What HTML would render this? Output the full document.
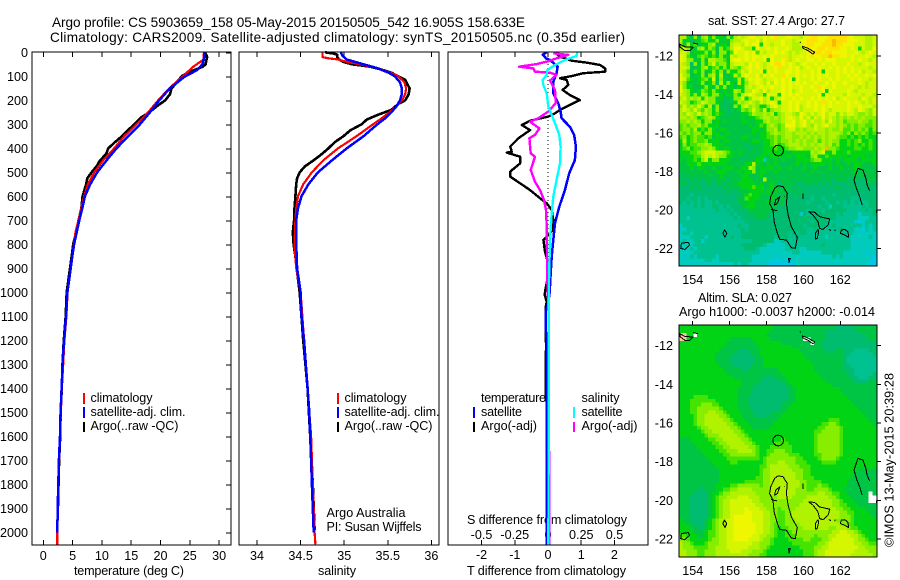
<!DOCTYPE html>
<html lang="en">
<head>
<meta charset="utf-8">
<title>Argo profile 5903659_158</title>
<style>
html,body{margin:0;padding:0;background:#fff;width:900px;height:580px;overflow:hidden}
svg{display:block}
text{font-family:"Liberation Sans",sans-serif;font-size:12.6px;fill:#000}
</style>
</head>
<body>
<svg id="chart" xmlns="http://www.w3.org/2000/svg" width="900" height="580" viewBox="0 0 900 580">
<defs>
<clipPath id="clip-map1"><rect x="679" y="35" width="198" height="231"/></clipPath>
<clipPath id="clip-map2"><rect x="679" y="325" width="198" height="232"/></clipPath>
</defs>
<rect width="900" height="580" fill="#fff"/>
<text x="52" y="27" style="font-size:13.6px" textLength="473">Argo profile: CS 5903659_158 05-May-2015 20150505_542 16.905S 158.633E</text>
<text x="50" y="42" style="font-size:13.6px" textLength="575">Climatology: CARS2009. Satellite-adjusted climatology: synTS_20150505.nc (0.35d earlier)</text>
<text x="74" y="575" textLength="110">temperature (deg C)</text>
<text x="318" y="575" textLength="38">salinity</text>
<text x="467" y="575" textLength="159">T difference from climatology</text>
<text x="467" y="524" textLength="160">S difference from climatology</text>
<g>
<rect x="83" y="393" width="2" height="11" fill="#f00"/>
<rect x="83" y="407" width="2" height="11" fill="#00f"/>
<rect x="83" y="422" width="2" height="10" fill="#000"/>
<text x="90.5" y="402" textLength="62">climatology</text>
<text x="90.5" y="416" textLength="95">satellite-adj. clim.</text>
<text x="90.5" y="430" textLength="88">Argo(..raw -QC)</text>
</g>
<g>
<rect x="337" y="393" width="2" height="11" fill="#f00"/>
<rect x="337" y="407" width="2" height="11" fill="#00f"/>
<rect x="337" y="422" width="2" height="10" fill="#000"/>
<text x="344.5" y="402" textLength="62">climatology</text>
<text x="344.5" y="416" textLength="95">satellite-adj. clim.</text>
<text x="344.5" y="430" textLength="88">Argo(..raw -QC)</text>
</g>
<text x="326.5" y="517" textLength="79">Argo Australia</text>
<text x="326.5" y="531" textLength="95">PI: Susan Wijffels</text>
<g>
<text x="481" y="402" textLength="65">temperature</text>
<text x="581.5" y="402" textLength="38">salinity</text>
<rect x="473" y="407" width="2" height="11" fill="#00f"/>
<rect x="473" y="422" width="2" height="10" fill="#000"/>
<rect x="573" y="407" width="2" height="11" fill="#0ff"/>
<rect x="573" y="422" width="2" height="10" fill="#f0f"/>
<text x="481" y="416" textLength="41">satellite</text>
<text x="481" y="430" textLength="56">Argo(-adj)</text>
<text x="581.5" y="416" textLength="41">satellite</text>
<text x="581.5" y="430" textLength="56">Argo(-adj)</text>
</g>
<text x="708" y="25" textLength="137">sat. SST: 27.4 Argo: 27.7</text>
<text x="698" y="302" textLength="94">Altim. SLA: 0.027</text>
<text x="679" y="316" textLength="196">Argo h1000: -0.0037 h2000: -0.014</text>
<text transform="translate(893.5,547) rotate(-90)" textLength="174">©IMOS 13-May-2015 20:39:28</text>
</svg>
<script>
// ---- axis tick values and labels ----
const depthTicks = [0,100,200,300,400,500,600,700,800,900,1000,1100,1200,1300,1400,1500,1600,1700,1800,1900,2000];
const tempTicks = [0,5,10,15,20,25,30];
const salTicks = [34,34.5,35,35.5,36];
const salTickLabels = ["34","34.5","35","35.5","36"];
const diffTTicks = [-2,-1,0,1,2];
const diffSTicks = [-0.5,-0.25,0,0.25,0.5];
const diffSLabels = ["-0.5","-0.25","0","0.25","0.5"];
const lonTicks = [154,156,158,160,162];
const latTicks = [-12,-14,-16,-18,-20,-22];

// ---- temperature panel ----
const tempClimDepth = [0,30,60,100,150,200,250,300,350,400,450,500,550,600,650,700,750,800,1000,1100,1200,1300,1400,1500,1600,1700,1800,1900,2000,2050];
const tempClim = [27.4,27.35,25.6,23.8,21.5,19.6,17.9,15.9,13.8,12.1,10.2,8.7,7.6,6.95,6.5,6.0,5.5,5.2,4.15,3.95,3.6,3.4,3.15,3.0,2.87,2.7,2.58,2.46,2.39,2.39];
const tempSatDepth = [0,30,50,75,100,150,200,250,300,350,400,450,500,550,600,650,700,750,800,850,900,950,1000,1100,1200,1300,1400,1500,1600,1700,1800,1900,2000];
const tempSat = [27.5,27.4,27.15,26.2,24.2,21.6,19.8,18.2,16.5,14.5,12.5,10.8,9.2,8.0,7.1,6.65,6.15,5.7,5.25,4.95,4.67,4.4,4.1,3.87,3.53,3.3,3.13,2.96,2.85,2.67,2.56,2.45,2.39];
const tempArgoDepth = [0,10,20,30,50,60,70,80,100,125,150,175,200,225,250,270,290,310,330,350,375,400,425,450,475,500,525,550,600,650,700,750,800,850,900,1000,1100,1200,1300,1400,1500,1600,1700,1800,1900,1950];
const tempArgo = [27.6,27.8,27.95,27.85,27.7,27.2,26.2,25.0,23.6,22.8,21.9,21.6,20.8,19.35,18.1,16.8,15.95,15.1,14.2,13.4,12.2,11.1,10.7,9.7,9.1,8.25,7.5,7.3,6.7,6.5,6.0,5.6,5.1,4.85,4.55,4.0,3.82,3.5,3.28,3.15,2.95,2.88,2.7,2.6,2.5,2.45];

// ---- salinity panel ----
const salClimDepth = [0,20,25,30,40,50,65,85,100,125,150,175,200,225,250,275,300,350,400,450,500,550,600,650,700,800,900,1000,1200,1400,1600,1800,2000,2050];
const salClim = [34.75,34.75,34.82,34.93,35.03,35.18,35.37,35.53,35.62,35.69,35.71,35.70,35.66,35.60,35.52,35.43,35.33,35.14,34.93,34.76,34.63,34.53,34.47,34.45,34.44,34.43,34.45,34.5,34.54,34.58,34.62,34.64,34.66,34.67];
const salSatDepth = [0,15,30,50,65,85,100,125,150,175,200,225,250,275,300,350,400,450,500,550,600,650,700,750,800,850,900,950,1000,1100,1200,1300,1400,1500,1600,1700,1800,1900,2000];
const salSat = [34.96,34.98,35.03,35.22,35.37,35.51,35.58,35.64,35.66,35.66,35.64,35.6,35.54,35.47,35.38,35.22,35.03,34.86,34.7,34.59,34.51,34.47,34.45,34.45,34.45,34.455,34.46,34.48,34.5,34.51,34.54,34.56,34.58,34.6,34.61,34.62,34.63,34.64,34.65];
const salArgoDepth = [0,5,10,20,30,40,50,60,70,85,100,115,130,150,175,200,215,240,260,280,300,325,350,375,400,425,450,475,500,525,550,600,650,700,750,800,850,900,1000,1200,1400,1600,1800,1990];
const salArgo = [34.78,34.875,34.92,34.92,34.94,34.99,35.09,35.3,35.41,35.54,35.62,35.7,35.72,35.75,35.74,35.7,35.62,35.54,35.39,35.26,35.2,35.07,34.99,34.89,34.82,34.74,34.65,34.55,34.49,34.46,34.45,34.44,34.43,34.425,34.41,34.42,34.44,34.455,34.49,34.53,34.58,34.61,34.64,34.66];

// ---- difference panel ----
const diffTSatDepth = [0,10,25,32,60,87,122,170,212,247,275,310,345,393,449,504,574,643,712,782,851,949,1000,1050,1080,1150,1200,2050];
const diffTSat = [-0.04,-0.16,-0.06,0.06,0.29,0.26,0.16,0.16,0.31,0.38,0.41,0.66,0.79,0.84,0.81,0.64,0.51,0.34,0.21,0.16,0.11,0.07,0.05,0,-0.07,-0.07,-0.04,-0.04];
const diffTArgoDepth = [1,18,35,43,53,67,81,87,99,108,115,136,157,178,199,212,240,254,268,285,303,324,358,393,414,418,435,463,497,518,546,574,608,629,657,699,740,782,831,865,949,990,1010,1040,1060,1080,1200,1210,1450,1460,1900,1950,2000];
const diffTArgo = [0.21,0.36,0.71,1.16,1.57,1.72,1.72,1.06,0.71,0.36,0.56,0.61,0.44,0.66,0.96,0.76,0.36,0.21,0.01,-0.54,-0.79,-0.54,-0.89,-1.14,-1.09,-1.24,-0.84,-0.84,-1.14,-1.14,-0.84,-0.54,-0.24,-0.04,0.11,0.16,0.16,-0.14,-0.09,-0.02,-0.02,-0.08,-0.1,-0.04,-0.07,-0.06,-0.07,-0.06,-0.07,0,0,0.04,0.03];
const diffSSatDepth = [0,15,32,53,74,94,115,136,171,226,261,296,344,393,463,532,601,671,782,949,2050];
const diffSSat = [0.22,0.215,0.128,0.053,-0.005,-0.01,-0.04,-0.035,-0.01,0.0025,0.028,0.053,0.085,0.095,0.09,0.065,0.04,0.028,0.015,0.0075,0.003];
const diffSArgoDepth = [4,11,25,35,49,60,67,81,85,94,118,157,212,247,275,289,317,344,358,421,435,490,539,574,615,657,726,949,1100,2050];
const diffSArgo = [0.04,0.153,0.065,0.015,-0.085,-0.218,-0.11,-0.098,0.015,0.065,0.015,0.053,0.058,0.0025,-0.073,-0.135,-0.065,-0.098,-0.14,-0.13,-0.098,-0.13,-0.098,-0.06,-0.03,-0.015,-0.01,-0.005,0.005,0.01];

// ---- map colour levels, one character per 0.2 degree cell ----
const levelColors = {"0":"#00c8e4","1":"#00cbbc","2":"#00c290","3":"#00bc70","4":"#00c444","5":"#00d414","6":"#44e400","7":"#88ee00","8":"#b0f200","9":"#d4f600","a":"#eef600","b":"#ffe000","c":"#ffb800","w":"#ffffff","p":"#ffc8a0"};
const sstRows = [
"885474785 755475898 9aa99a9ab 99aa998aa bbaaabbbb baa999889",
"845345675 574547889 a99a8a999 9a9989aab bbaabbcbb baaa99889",
"758564557 845548998 a9aa5a989 9a99889ab baabbbcbb aaa999889",
"797547857 647568aa9 885a99a9a 99a9888ab aabbabbba a9a95988a",
"997455575 747746a99 a9a69899a 9a989899a abbabbaaa a99a989a9",
"a96546765 657559899 a9aa9a9a9 999899a9a baabbcbba a9a999a98",
"a97745748 877649aa9 a9a99a5a9 9ab89a99a a9a9aaa99 99a9a9989",
"987374757 967758999 8a9a989ab ba9a989a9 9a9a99a99 9a9989a99",
"998445785 675758768 9a9a9899a b99a9a89a 99a99a9a9 a9a999989",
"986465745 757475579 8a99a5a9a 99aa9a999 a9a5a99a9 a9a9a8998",
"a87445747 858445869 a99a8a9a9 9ba99a9a9 a9a9a99a9 9a9a99a9a",
"a96545675 947544585 8a9a9899a 9a9a5a999 a9a99a9a9 99a9a9989",
"975445745 748575485 799a98a8a 9a9a9a9a9 9a99a9a99 a999a9899",
"a75544575 475745455 8989a99a9 9a9a99a99 a9ba99a99 99a989899",
"a87545765 754545875 88a98a899 9a9a89a99 9a9a5a999 9a9899999",
"987575875 775455758 9a9885a99 5a9a9a999 99a5a9999 8a9998998",
"897878587 745344779 5799a8958 9a99a9a99 a9a9a9a89 a9998a989",
"987567987 754344587 898798 9a9 599a9a99a 9a9b9a9a9 9a9a98989",
"797879758 474434758 97875579a 899a9a89a 9a9a9a999 9a99a9998",
"898797687 574434457 679769578 899a9a899 9a9a98999 9a98a9879",
"879879787 565434445 568778785 789987a98 989a89979 899877879",
"887875678 754444445 455678878 789a98a89 798a89878 787878777",
"778787577 454544445 544557877 7899a89a8 98897a878 677787767",
"676778675 554444444 454565787 67aaa89a8 7989a8878 767677667",
"677685657 545544444 445545778 678997878 898878778 667676757",
"767677577 554454444 445455678 778878887 878878887 675767656",
"675676656 455544445 544455667 678877878 787878876 656565655",
"585676675 554554444 445545567 677878787 786878775 565675565",
"475667787 555444444 344445567 567888787 878878675 565656565",
"567566778 754554444 434445556 556778877 7878c7765 555665565",
"555667899 988765454 444445555 554455555 878955755 565555555",
"455566898 987755444 344455455 545545554 785465555 545555445",
"545565795 775554443 444551445 454445555 677555454 555545555",
"445556555 555544444 558544545 434445454 555545454 454554445",
"444545544 544555445 587454554 544544454 454445445 444554444",
"444444454 455544454 557455445 444444444 544444444 444544444",
"344444444 445444445 544454444 444444444 444444444 444444444",
"433434344 344434445 554448444 444444444 444344344 433433444",
"443343334 344344455 555454454 344443344 343434333 343333443",
"333434333 333434445 556554454 444434333 333333343 333433333",
"333333333 333343344 455554545 444343433 333333333 333333333",
"333233333 333333334 565544454 344334333 333333233 333323333",
"332332323 333333344 655544454 443333333 233233333 332233333",
"323232322 323333344 455444544 444333332 333323323 232322233",
"222232322 332323334 555444444 333333333 332331333 222223233",
"222222222 232232333 344444444 333333332 333233333 322222323",
"222222222 222223233 344444433 333333132 233333323 222212223",
"221222222 222222323 333444333 333333333 333333322 222211122",
"222222222 222222222 333333333 333333333 233332222 222101222",
"122222222 222222232 233333333 333333323 333322322 222221212",
"112222222 222222223 233333333 333333332 232222223 222110212",
"122122222 222222223 333333333 333232332 222222222 222111111",
"111222212 222223223 333333332 333223222 222212222 221111121",
"121122122 222222222 223333331 122222222 222222222 221111111",
"111122222 222222223 333332111 112222222 222322222 221111111",
"111212222 222222222 333211111 112222112 222222222 221111111",
"111122222 222222222 222211111 111122111 111222222 111111011",
"111212222 212222222 221111111 111111111 111111212 111111110",
"111111122 112222222 221111110 010111111 111111111 111111100",
"111111111 111111212 211111000 000001111 111111111 111111100"
];
const slaRows = [
"555555555 555555555 555555554 444444444 444444433 333444444",
"555555555 555555555 555555544 444444444 444433333 333344444",
"pp55w5555 555555555 555555444 444444444 444433333 333333444",
"pp5555555 555554444 445555544 4444444ww 444433333 333333344",
"555555555 555544444 444555555 544444444 w44333333 333333333",
"555555555 555444444 444455555 555544444 444333333 333333333",
"555555555 554444433 344455555 555555444 444433344 333222233",
"555555555 544444333 334455555 555555544 444444444 332222223",
"555555555 544443333 333445555 555555554 444444444 322222222",
"555555555 544443333 333445555 555555555 444444444 322222222",
"555555555 554444333 334445555 555555555 544444444 332222222",
"555555555 555444443 344444444 555555555 544444444 333222222",
"555555555 555544444 444444444 455555555 554444444 433222223",
"555555555 555555444 444443334 445555555 555444444 443322233",
"555555555 555555554 444433333 344555555 555544444 444333344",
"555555555 555555554 444333333 334455555 555555444 444444444",
"555555555 555555544 443333333 333445555 555555554 444444444",
"555555555 555555544 443333333 333445555 555555555 444444444",
"555566665 555555544 433333333 333445555 555555555 544444444",
"555666666 655555544 433333333 334445555 555555555 554444444",
"555666777 665555544 433333333 344455555 555555555 555444444",
"555667777 776555544 443333333 344555555 555555555 555544444",
"555667778 877655554 443333334 445555555 555555555 555554444",
"555567788 887765554 444333344 455555555 555555555 555555444",
"555567788 888776555 444444444 555555555 555556665 555555544",
"555567788 888877655 544444445 555555555 555667765 555555554",
"555556778 888887765 554444455 555555555 556677776 555555555",
"555555677 888888776 555555555 555555555 566777776 555555555",
"555555567 778888877 655555555 555555555 567777776 555555555",
"444555556 677888887 765555555 565555555 567777776 555555555",
"444455555 667788888 776555556 666555555 567777776 555555555",
"444445555 566778888 877655566 666655555 567777776 555555555",
"444444555 556677788 887655667 776655555 567777776 555555555",
"444444455 555667777 777655677 777666555 566777776 555555555",
"444444445 555566666 666656777 777776655 556777765 555555555",
"444444444 555556655 555556777 887776665 555666655 555555555",
"444444444 455555555 555566788 888777666 555555555 555555555",
"444444444 445555555 555567788 888877766 555555555 555544444",
"444444444 445555555 555567788 888887766 555555555 555444444",
"444444444 445555555 555667788 888887766 655555555 554444444",
"444444444 445555555 666667788 888888776 666555555 544444444",
"444444444 455556677 777767788 888888776 667665555 544444444",
"444443344 455667788 887777788 888887776 677776555 444444444",
"444433334 556778888 888777788 888887777 778877665 5444444w4",
"444333334 567788899 988877777 888877778 888887765 5544444ww",
"444333334 567889999 998877777 777777788 888888776 5554444ww",
"444333334 567889999 999887777 777777888 888888776 655544444",
"444333334 567889999 a99988777 677778888 888888877 665555444",
"444333334 567889999 aa9998877 667788888 888888887 766555544",
"444333334 567889aaa aa9998877 667788888 888888887 776555554",
"544333345 678899aaa aa9998877 667778888 888888877 776555555",
"554433345 678899aaa aaa998876 667777888 888888887 766555555",
"555443345 678899aaa aaa998876 566777788 888887788 876655555",
"555544456 678899aaa aaa998876 556677777 777777889 988765555",
"665554456 678899aaa aa9988776 556667777 767778899 998876555",
"776555556 778899aaa a99987765 555666677 666778999 999877655",
"877655567 778899999 998877765 555566666 667789999 999887766",
"877766667 788899999 988877655 555555666 677889999 999988777",
"887776677 788889998 887776555 555555566 678899999 999888877",
"887776677 788888888 877766555 555555566 678899999 998888887"
];

// ---- coastlines as lon,lat pairs ----
const coastClosed = [
[158.63,-18.73,158.90,-18.78,159.13,-19.13,159.08,-19.65,159.17,-20.25,159.35,-20.86,159.67,-21.41,159.56,-21.98,159.35,-21.95,159.08,-21.55,158.72,-21.51,158.59,-21.20,158.41,-20.60,158.35,-19.99,158.17,-19.65,158.23,-19.30,158.44,-18.87],
[158.72,-19.30,158.59,-19.65,158.44,-19.73,158.50,-19.47],
[160.29,-20.08,160.61,-20.11,160.88,-20.34,161.43,-20.46,161.34,-20.77,161.06,-21.0,160.88,-20.94,160.79,-20.6,160.52,-20.25],
[160.79,-21.0,160.65,-21.2,160.65,-21.5,160.75,-21.46,160.83,-21.12],
[162.24,-21.0,162.42,-21.13,162.45,-21.41,162.24,-21.29,162.0,-21.2,162.06,-21.03],
[155.73,-21.03,155.85,-21.2,155.75,-21.4,155.63,-21.2],
[153.39,-21.72,153.75,-21.67,153.84,-21.8,153.57,-22.04,153.35,-21.98],
[159.2,-22.5,159.29,-22.5,159.22,-22.73],
[159.94,-11.5,160.25,-11.6,160.61,-11.81,160.52,-11.9,160.25,-11.72,159.98,-11.6],
[153.3,-11.38,153.57,-11.52,154.02,-11.55,153.84,-11.72,153.57,-11.72,153.3,-11.52]
];
const coastOpen = [
[163.59,-18.99,163.45,-18.69,163.38,-18.35,163.23,-17.92,162.96,-17.83,162.83,-18.18,162.74,-18.44,162.87,-18.87,163.05,-19.30,163.18,-19.73],
[158.25,-19.96,158.58,-20.03],
[161.37,-21.0,161.5,-21.05],
[161.7,-21.0,161.72,-21.08],
[159.98,-19.13,159.98,-19.42],
[158.98,-19.28,158.99,-19.32],
[159.8,-11.27,159.86,-11.3],
[154.02,-11.32,154.29,-11.38],
[163.95,-20.0,163.95,-20.15]
];
const argoLon = 158.633;
const argoLat = -16.905;

// ---- axis functions ----
const svg = document.getElementById('chart');
const NS = 'http://www.w3.org/2000/svg';
const yDepth = d => 52.3 + d * 0.24;
const xTemp = t => 43.3 + t * 5.86;
const xSal = s => 257 + (s - 34) * 87.2;
const xDiffT = t => 548 + t * 33.2;
const xDiffS = s => 548 + s * 133;
const map1 = {x0:679, y0:35, w:197, h:231, yAt:lat => 56 + (-12 - lat) * 19.27, name:'sst-map', top:35, clip:'clip-map1'};
const map2 = {x0:679, y0:325.5, w:197, h:231.5, yAt:lat => 345.7 + (-12 - lat) * 19.33, name:'sla-map', top:325, clip:'clip-map2'};
const xLon = lon => 692.7 + (lon - 154) * 18.45;

function mk(tag, attrs, parent) {
  const el = document.createElementNS(NS, tag);
  for (const k in attrs) el.setAttribute(k, attrs[k]);
  (parent || svg).appendChild(el);
  return el;
}
function label(str, x, y, anchor, name) {
  const el = mk('text', {x:x, y:y, 'text-anchor':anchor});
  el.textContent = str;
  
  
  return el;
}
function tick(x1, y1, x2, y2, name) {
  const el = mk('line', {x1:x1, y1:y1, x2:x2, y2:y2, stroke:'#000', 'stroke-width':1, 'shape-rendering':'crispEdges'});
  
  
}
function frame(x, y, w, h, name) {
  const el = mk('rect', {x:x, y:y, width:w, height:h, fill:'none', stroke:'#000', 'stroke-width':1, 'shape-rendering':'crispEdges'});
  
  
}
function profile(depths, values, xScale, color, width, name) {
  const pts = depths.map((d, i) => xScale(values[i]).toFixed(1) + ',' + yDepth(d).toFixed(1)).join(' ');
  const el = mk('polyline', {points:pts, fill:'none', stroke:color, 'stroke-width':width, 'stroke-linejoin':'round', 'shape-rendering':'crispEdges'});
  
  
}

// ---- temperature panel ----
depthTicks.forEach(d => {
  label(String(d), 28, yDepth(d) + 4.5, 'end', 'depth-tick-label');
  tick(226, yDepth(d) + .5, 231, yDepth(d) + .5, 'depth-tick');
});
tempTicks.forEach(t => {
  label(String(t), xTemp(t), 560, 'middle', 'temperature-tick-label');
  tick(xTemp(t), 52, xTemp(t), 57, 'temperature-tick-top');
  tick(xTemp(t), 540, xTemp(t), 545, 'temperature-tick-bottom');
});
profile(tempArgoDepth, tempArgo, xTemp, '#000', 2.6, 'temperature-argo-line');
profile(tempClimDepth, tempClim, xTemp, '#f00', 2.2, 'temperature-climatology-line');
profile(tempSatDepth, tempSat, xTemp, '#00f', 2.5, 'temperature-satellite-line');
frame(32, 52, 199, 493, 'temperature-panel-frame');

// ---- salinity panel ----
salTicks.forEach((s, i) => {
  label(salTickLabels[i], xSal(s), 560, 'middle', 'salinity-tick-label');
  tick(xSal(s), 52, xSal(s), 57, 'salinity-tick-top');
  tick(xSal(s), 540, xSal(s), 545, 'salinity-tick-bottom');
});
profile(salArgoDepth, salArgo, xSal, '#000', 2.6, 'salinity-argo-line');
profile(salClimDepth, salClim, xSal, '#f00', 2.2, 'salinity-climatology-line');
profile(salSatDepth, salSat, xSal, '#00f', 2.5, 'salinity-satellite-line');
frame(239, 52, 200, 493, 'salinity-panel-frame');

// ---- difference panel ----
diffTTicks.forEach(t => {
  label(String(t), xDiffT(t), 559, 'middle', 't-difference-tick-label');
  tick(xDiffT(t), 52, xDiffT(t), 57, 't-difference-tick-top');
  tick(xDiffT(t), 540, xDiffT(t), 545, 't-difference-tick-bottom');
});
diffSTicks.forEach((s, i) => {
  label(diffSLabels[i], xDiffS(s), 539, 'middle', 's-difference-tick-label');
});
const zeroLine = mk('line', {x1:xDiffT(0), y1:52, x2:xDiffT(0), y2:545, stroke:'#000', 'stroke-width':1, 'stroke-dasharray':'1 3', 'shape-rendering':'crispEdges'});


profile(diffTArgoDepth, diffTArgo, xDiffT, '#000', 2.4, 'difference-t-argo-line');
profile(diffTSatDepth, diffTSat, xDiffT, '#00f', 2.5, 'difference-t-satellite-line');
profile(diffSArgoDepth, diffSArgo, xDiffS, '#f0f', 2.4, 'difference-s-argo-line');
profile(diffSSatDepth, diffSSat, xDiffS, '#0ff', 2.4, 'difference-s-satellite-line');
frame(448, 52, 200, 493, 'difference-panel-frame');

// ---- maps ----
function drawMap(m, rows, labelY) {
  const g = mk('g', {'shape-rendering':'crispEdges'});
  
  
  const cw = m.w / 54, ch = m.h / rows.length;
  rows.forEach((row, r) => {
    row.replace(/ /g, '').split('').forEach((c, i) => {
      const cell = mk('rect', {x:(m.x0 + i * cw).toFixed(2), y:(m.y0 + r * ch).toFixed(2), width:(cw + .4).toFixed(2), height:(ch + .4).toFixed(2), fill:levelColors[c]}, g);
      
      
    });
  });
  const coast = mk('g', {fill:'none', stroke:'#000', 'stroke-width':1, 'clip-path':'url(#' + m.clip + ')', 'stroke-linejoin':'round', 'shape-rendering':'crispEdges'});
  
  
  const toPts = a => { let s = ''; for (let i = 0; i < a.length; i += 2) s += xLon(a[i]).toFixed(1) + ',' + m.yAt(a[i + 1]).toFixed(1) + ' '; return s; };
  coastClosed.forEach(a => {
    const p = mk('polygon', {points:toPts(a)}, coast);
    
    
  });
  coastOpen.forEach(a => {
    const p = mk('polyline', {points:toPts(a)}, coast);
    
    
  });
  const c = mk('circle', {cx:xLon(argoLon), cy:m.yAt(argoLat), r:5.3, fill:'none', stroke:'#000', 'stroke-width':1, 'shape-rendering':'crispEdges'});
  
  
  lonTicks.forEach(l => {
    label(String(l), xLon(l), labelY, 'middle', 'longitude-tick-label');
    tick(xLon(l), m.top - 4, xLon(l), m.top, 'longitude-tick');
  });
  latTicks.forEach(l => {
    label(String(l), 673, m.yAt(l) + 4.5, 'end', 'latitude-tick-label');
    tick(877, m.yAt(l), 881, m.yAt(l), 'latitude-tick');
  });
  frame(679, m.top, 198, m === map1 ? 231 : 232, m.name + '-frame');
}
drawMap(map1, sstRows, 284);
drawMap(map2, slaRows, 575);
</script>
</body>
</html>
